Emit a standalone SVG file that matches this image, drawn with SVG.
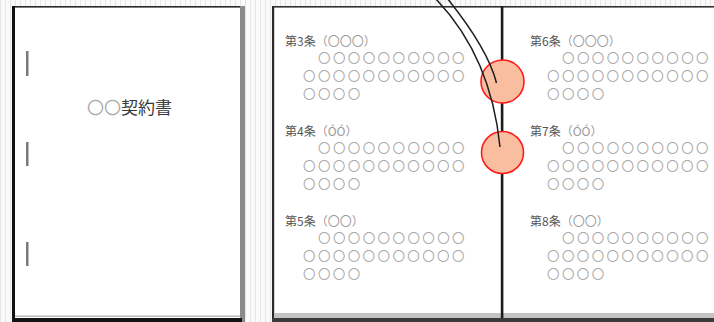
<svg xmlns="http://www.w3.org/2000/svg" width="714" height="322" viewBox="0 0 714 322">
<defs>
<pattern id="stripes" width="5" height="10" patternUnits="userSpaceOnUse">
<rect width="5" height="10" fill="#fafafa"/>
<rect x="0" width="1" height="10" fill="#e6e6e6"/>
</pattern>
</defs>
<style>
text{font-family:"Noto Sans CJK JP","Noto Sans",sans-serif}
.ttl{font-size:12px;fill:#555}
.lt{fill:#9a9a9a}
.body{font-size:12.5px;letter-spacing:2.4px;fill:#a8a8a8}
.bind{fill:#7a7a7a}
.pin{fill:#f9bea0;stroke:#ff1a1a;stroke-width:1.6}
.wire{fill:none;stroke:#1e1e1e;stroke-width:1.5}
</style>
<rect width="714" height="322" fill="url(#stripes)"/>

<g id="cover-page">
<rect x="12" y="6" width="233" height="316" fill="#ffffff"/>
<rect x="12" y="6" width="231" height="1.6" fill="#2a2a2a"/>
<rect x="240" y="6" width="5" height="316" fill="#8a8a8a"/>
<rect x="12" y="6" width="3" height="316" fill="#111"/>
<rect x="15" y="315.5" width="225" height="1.5" fill="#bbbbbb"/>
<rect x="12" y="318" width="230" height="4" fill="#141414"/>
<rect class="bind" x="26" y="51" width="2.5" height="25"/>
<rect class="bind" x="26" y="142" width="2.5" height="24"/>
<rect class="bind" x="26" y="242" width="2.5" height="24"/>
<text x="87" y="114" font-size="17"><tspan fill="#aaaaaa">〇〇</tspan><tspan fill="#3a3a3a">契約書</tspan></text>
</g>

<g id="open-book">
<rect x="272" y="6" width="442" height="316" fill="#ffffff"/>
<rect x="272" y="6" width="442" height="1.6" fill="#333"/>
<rect x="272" y="6" width="2.2" height="316" fill="#2a2a2a"/>
<rect x="274" y="313" width="440" height="5" fill="#c4c4c4"/>
<rect x="272" y="318" width="442" height="4" fill="#3a3a3a"/>
<rect x="500.8" y="6" width="2.6" height="312" fill="#1c1c1c"/>
</g>

<g id="art3">
<text class="ttl" x="285" y="46">第3条<tspan class="lt">（〇〇〇）</tspan></text>
<text class="body" x="318" y="63">〇〇〇〇〇〇〇〇〇〇</text>
<text class="body" x="303" y="81">〇〇〇〇〇〇〇〇〇〇〇</text>
<text class="body" x="303" y="99">〇〇〇〇</text>
</g>
<g id="art4">
<text class="ttl" x="285" y="136">第4条<tspan class="lt">（ÓÓ）</tspan></text>
<text class="body" x="318" y="153">〇〇〇〇〇〇〇〇〇〇</text>
<text class="body" x="303" y="171">〇〇〇〇〇〇〇〇〇〇〇</text>
<text class="body" x="303" y="189">〇〇〇〇</text>
</g>
<g id="art5">
<text class="ttl" x="285" y="226">第5条<tspan class="lt">（〇〇）</tspan></text>
<text class="body" x="318" y="243">〇〇〇〇〇〇〇〇〇〇</text>
<text class="body" x="303" y="261">〇〇〇〇〇〇〇〇〇〇〇</text>
<text class="body" x="303" y="279">〇〇〇〇</text>
</g>
<g id="art6">
<text class="ttl" x="530" y="46">第6条<tspan class="lt">（〇〇〇）</tspan></text>
<text class="body" x="562" y="63">〇〇〇〇〇〇〇〇〇〇</text>
<text class="body" x="547" y="81">〇〇〇〇〇〇〇〇〇〇〇</text>
<text class="body" x="547" y="99">〇〇〇〇</text>
</g>
<g id="art7">
<text class="ttl" x="530" y="136">第7条<tspan class="lt">（ÓÓ）</tspan></text>
<text class="body" x="562" y="153">〇〇〇〇〇〇〇〇〇〇</text>
<text class="body" x="547" y="171">〇〇〇〇〇〇〇〇〇〇〇</text>
<text class="body" x="547" y="189">〇〇〇〇</text>
</g>
<g id="art8">
<text class="ttl" x="530" y="226">第8条<tspan class="lt">（〇〇）</tspan></text>
<text class="body" x="562" y="243">〇〇〇〇〇〇〇〇〇〇</text>
<text class="body" x="547" y="261">〇〇〇〇〇〇〇〇〇〇〇</text>
<text class="body" x="547" y="279">〇〇〇〇</text>
</g>

<g id="staple-hole-1"><circle class="pin" cx="502.5" cy="81.5" r="21.5"/></g>
<g id="staple-hole-2"><circle class="pin" cx="502.5" cy="152.5" r="21"/></g>

<g id="connectors">
<path class="wire" d="M435,-2 Q491,56 500,147"/>
<path class="wire" d="M447,-2 Q488,49 496.5,83"/>
</g>
</svg>
